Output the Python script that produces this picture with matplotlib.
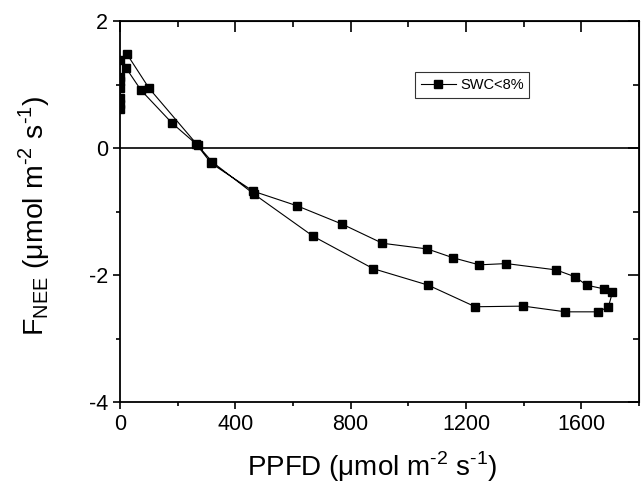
import matplotlib
matplotlib.use("Agg")
from matplotlib import pyplot as plt

plt.rcParams['font.family'] = ['Liberation Sans', 'DejaVu Sans']
plt.rcParams['mathtext.fontset'] = 'custom'
plt.rcParams['mathtext.rm'] = 'Liberation Sans'
plt.rcParams['axes.unicode_minus'] = False

# diurnal course, night -> morning -> afternoon -> night
ppfd = [0, 0, 0, 0, 21, 73, 181, 265, 316, 462, 614, 771, 910, 1066, 1156,
        1246, 1340, 1513, 1579, 1618, 1680, 1708, 1694, 1659, 1545, 1399,
        1232, 1069, 878, 670, 466, 320, 270, 101, 24, 0, 0, 0]
fnee = [0.62, 0.78, 0.95, 1.12, 1.26, 0.91, 0.39, 0.06, -0.24, -0.68, -0.91,
        -1.2, -1.5, -1.59, -1.73, -1.84, -1.82, -1.92, -2.03, -2.16, -2.22,
        -2.27, -2.5, -2.58, -2.58, -2.49, -2.5, -2.16, -1.9, -1.39, -0.73,
        -0.22, 0.04, 0.94, 1.48, 1.38, 1.05, 0.7]

fig = plt.figure(figsize=(6.41, 4.90), dpi=100)
ax = fig.add_axes([0.1872, 0.1796, 0.8097, 0.7775])

ax.axhline(0, color='black', lw=1.2, zorder=1)
ax.plot(ppfd, fnee, color='black', lw=0.8, marker='s', ms=6,
        mfc='black', mec='black', label='SWC<8%', zorder=3)

ax.set_xlim(0, 1800)
ax.set_ylim(-4, 2)
ax.set_xticks([0, 400, 800, 1200, 1600])
ax.set_xticks([200, 600, 1000, 1400, 1800], minor=True)
ax.set_yticks([-4, -2, 0, 2])
ax.set_yticks([-3, -1, 1], minor=True)
ax.tick_params(which='both', direction='out', labelsize=15.5, width=1.2)
ax.tick_params(which='major', length=5)
ax.tick_params(which='minor', length=3)
for s in ax.spines.values():
    s.set_linewidth(1.3)

# inward ticks on top and right
top = ax.secondary_xaxis('top')
top.set_xticks([0, 400, 800, 1200, 1600])
top.set_xticks([200, 600, 1000, 1400, 1800], minor=True)
top.tick_params(which='both', direction='in', labeltop=False, width=1.2)
top.tick_params(which='major', length=8)
top.tick_params(which='minor', length=4)
right = ax.secondary_yaxis('right')
right.set_yticks([-4, -2, 0, 2])
right.set_yticks([-3, -1, 1], minor=True)
right.tick_params(which='both', direction='in', labelright=False, width=1.2)
right.tick_params(which='major', length=8)
right.tick_params(which='minor', length=4)

unit = ' (μmol m$^{\\text{-2}}$ s$^{\\text{-1}}$)'
ax.set_xlabel('PPFD' + unit, fontsize=20)
ax.set_ylabel('F$_{\\mathregular{NEE}}$' + unit, fontsize=20.5)
ax.xaxis.set_label_coords(0.485, -0.125)
ax.yaxis.set_label_coords(-0.131, 0.49)

ax.legend(loc='upper left', bbox_to_anchor=(0.568, 0.865), fontsize=10.5,
          frameon=True, fancybox=False, edgecolor='black', handlelength=2.4,
          borderpad=0.4, handletextpad=0.3, borderaxespad=0).get_frame().set_linewidth(0.8)

fig.savefig('out.png', dpi=100)
